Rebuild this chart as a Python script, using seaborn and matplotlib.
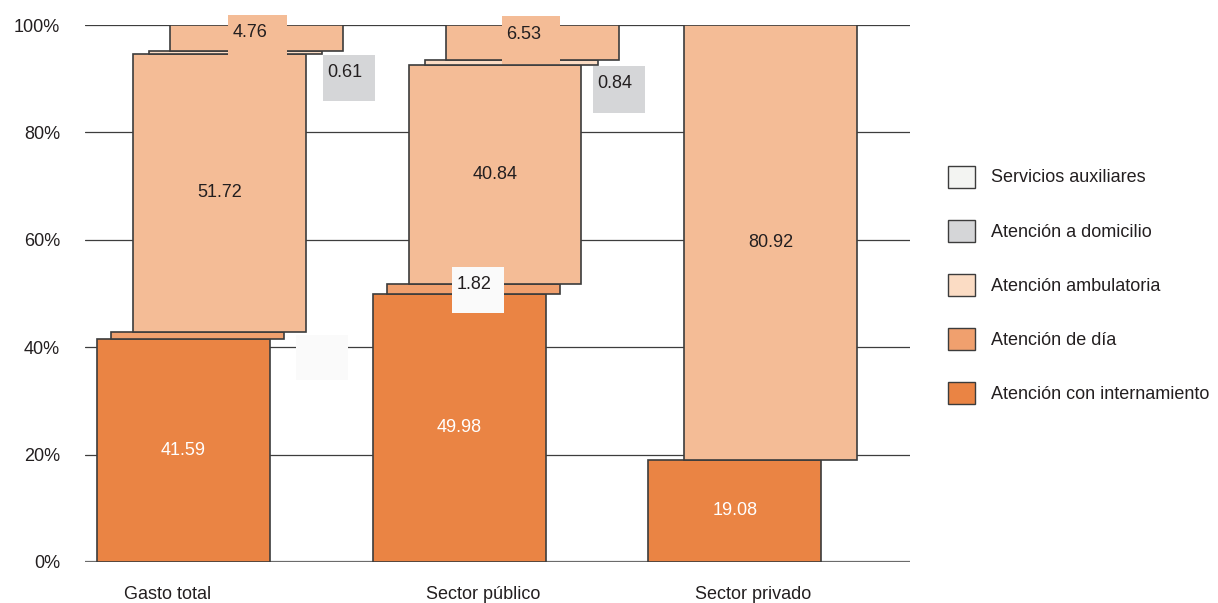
import matplotlib
matplotlib.use("Agg")
import matplotlib.pyplot as plt
from matplotlib.patches import Rectangle, Patch
import seaborn as sns

# Distribution of spending by type of care (%)
categories = ["Gasto total", "Sector público", "Sector privado"]
internamiento = [41.59, 49.98, 19.08]
dia = [1.32, 1.82, 0.0]
ambulatoria = [51.72, 40.84, 80.92]
domicilio = [0.61, 0.84, 0.0]
auxiliares = [4.76, 6.53, 0.0]

legend_labels = ["Servicios auxiliares", "Atención a domicilio", "Atención ambulatoria",
                 "Atención de día", "Atención con internamiento"]
y_ticks = [0, 20, 40, 60, 80, 100]

sns.set_style("white")
plt.rcParams["font.family"] = ["Liberation Sans", "DejaVu Sans"]

FS = 13
EDGE = "#3c3c3c"
DARK_TXT = "#231F20"

# fill colours of the stacked pieces (bottom to top)
seg_colors = ["#EA8444", "#F0A06E", "#F4BC96", "#FBDCC4", "#F4BC96"]
# legend swatches (top to bottom)
legend_colors = ["#F3F4F2", "#D5D6D8", "#FBDCC4", "#F0A06E", "#EA8444"]
# horizontal shift of each stacked piece
seg_shift = [0.0, 0.051, 0.13, 0.19, 0.265]
BAR_W = 0.627

fig = plt.figure(figsize=(12.18, 6.03), dpi=100)
ax = fig.add_axes([85 / 1218, 1 - 562 / 603, 825 / 1218, (562 - 25) / 603])

# base piece through seaborn
sns.barplot(x=categories, y=internamiento, color=seg_colors[0], saturation=1,
            width=BAR_W, edgecolor=EDGE, linewidth=1.2, ax=ax, zorder=3)

series = [internamiento, dia, ambulatoria, domicilio, auxiliares]
bottoms = [0.0] * len(categories)
for k, vals in enumerate(series):
    for i, v in enumerate(vals):
        if k > 0 and v > 0:
            ax.bar(i + seg_shift[k], v, width=BAR_W, bottom=bottoms[i],
                   color=seg_colors[k], edgecolor=EDGE, linewidth=1.2, zorder=3)
        bottoms[i] += v

# labels inside the large pieces
def inner_label(i, k, value, color):
    base = sum(series[j][i] for j in range(k))
    ax.text(i + seg_shift[k], base + value / 2, f"{value:.2f}", ha="center",
            va="center", fontsize=FS, color=color, zorder=6)

for i in range(3):
    inner_label(i, 0, internamiento[i], "white")
    inner_label(i, 2, ambulatoria[i], DARK_TXT)

# boxed labels for the thin pieces: (left, top, width, height, value, box colour, text colour)
boxed = [
    (0.1625, 101.9, 0.212, 8.3, auxiliares[0], "#F4BC96", DARK_TXT),
    (0.505, 94.4, 0.19, 8.5, domicilio[0], "#D5D6D8", DARK_TXT),
    (0.408, 42.3, 0.187, 8.5, dia[0], "#FAFAFA", "#FAFAFA"),
    (1.155, 101.6, 0.21, 8.8, auxiliares[1], "#F4BC96", DARK_TXT),
    (1.484, 92.4, 0.19, 8.7, domicilio[1], "#D5D6D8", DARK_TXT),
    (0.975, 55.0, 0.1875, 8.6, dia[1], "#FAFAFA", DARK_TXT),
]
for left, top, w, h, val, bc, tc in boxed:
    ax.add_patch(Rectangle((left, top - h), w, h, facecolor=bc, edgecolor="none",
                           zorder=5, clip_on=False))
    ax.text(left + 0.08, top - 3.3, f"{val:.2f}", ha="center", va="center",
            fontsize=FS, color=tc, zorder=6, clip_on=False)

ax.set_xlim(-0.357, 2.635)
ax.set_ylim(0, 100)
ax.set_yticks(y_ticks)
ax.set_yticklabels([f"{t}%" for t in y_ticks], fontsize=FS, color=DARK_TXT)
ax.set_xticks([-0.056, 1.086, 2.065])
ax.set_xticklabels(categories, fontsize=FS, color=DARK_TXT)
ax.tick_params(axis="y", length=0, pad=18)
ax.tick_params(axis="x", length=0, pad=17)
ax.set_xlabel("")
ax.set_ylabel("")
for s in ax.spines.values():
    s.set_visible(False)
ax.set_axisbelow(True)
ax.yaxis.grid(True, color="#3d3d3d", linewidth=0.9)
ax.xaxis.grid(False)
ax.axhline(0, color="#6b6b6b", linewidth=1.6, zorder=2)

handles = [Patch(facecolor=c, edgecolor=EDGE, linewidth=1.0) for c in legend_colors]
fig.legend(handles, legend_labels, loc="upper left",
           bbox_to_anchor=(948 / 1218, 1 - 165.5 / 603), frameon=False,
           fontsize=FS, handlelength=1.5, handleheight=1.5, labelspacing=1.78,
           handletextpad=0.89, borderpad=0, borderaxespad=0, labelcolor=DARK_TXT)

fig.savefig("out.png", dpi=100)
